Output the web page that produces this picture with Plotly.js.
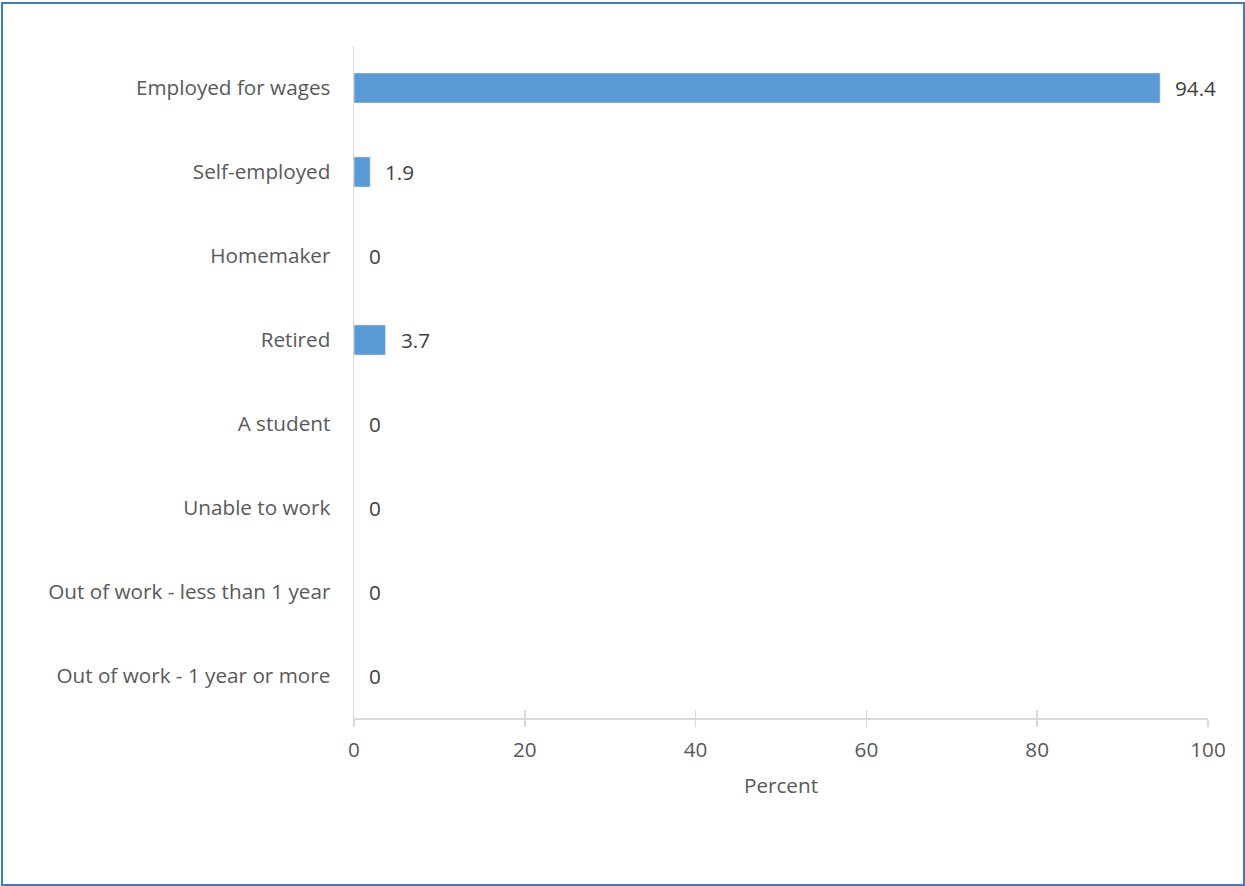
<!DOCTYPE html>
<html>
<head>
<meta charset="utf-8">
<script src="https://cdn.plot.ly/plotly-3.0.1.min.js"></script>
<style>
html,body{margin:0;padding:0;background:#fff;}
#chart{width:1245px;height:886px;position:absolute;left:0;top:0;}
#frame{position:absolute;left:1px;top:2px;width:1240px;height:880px;border:2px solid #3d7cc0;pointer-events:none;}
</style>
</head>
<body>
<div id="chart"></div>
<div id="frame"></div>
<script>
var categories = ["Employed for wages","Self-employed","Homemaker","Retired","A student","Unable to work","Out of work - less than 1 year","Out of work - 1 year or more"];
var percents = [94.4, 1.9, 0, 3.7, 0, 0, 0, 0];
var labels = ["94.4","1.9","0","3.7","0","0","0","0"];
var xTicks = [0,20,40,60,80,100];

var font = "'Open Sans', sans-serif";
var fs = 20.7;

var annotations = categories.map(function(c,i){
  return {x: percents[i], y: c, xref:'x', yref:'y', text: labels[i], showarrow:false,
    xanchor:'left', yanchor:'middle', xshift:13, font:{family:font,size:fs,color:'#404040'}};
});

var data = [{
  type:'bar', orientation:'h', x: percents, y: categories,
  marker:{color:'#5b9bd5', line:{color:'#ffffff', width:0.5}},
  width:0.36, hoverinfo:'none'
},{
  type:'scatter', mode:'markers', x:[0], y:[categories[0]], xaxis:'x2', marker:{opacity:0}, hoverinfo:'none', showlegend:false
}];

var layout = {
  width:1245, height:886,
  margin:{l:354, r:37, t:46, b:168},
  paper_bgcolor:'#ffffff', plot_bgcolor:'#ffffff',
  showlegend:false,
  font:{family:font, size:fs, color:'#595959'},
  xaxis:{range:[0,100], tickvals:xTicks, ticktext:xTicks.map(String), showgrid:false, zeroline:false,
    showline:true, linecolor:'#d9d9d9', linewidth:1.5, ticks:'outside', ticklen:7, tickcolor:'#d9d9d9', tickwidth:1.5,
    ticklabelstandoff:6, tickfont:{family:font,size:fs,color:'#595959'},
    title:{text:'Percent', font:{family:font,size:fs,color:'#595959'}, standoff:16}, fixedrange:true},
  xaxis2:{range:[0,100], overlaying:'x', anchor:'y', side:'bottom', tickvals:xTicks, showticklabels:false, showgrid:false,
    zeroline:false, showline:false, ticks:'inside', ticklen:8, tickcolor:'#d9d9d9', tickwidth:1.5},
  yaxis:{categoryorder:'array', categoryarray:categories.slice().reverse(), autorange:false, range:[-0.5,7.5],
    showgrid:false, zeroline:false, showline:true, linecolor:'#d9d9d9', linewidth:1.5, ticks:'', ticklabelstandoff:18,
    tickfont:{family:font,size:fs,color:'#595959'}, fixedrange:true},
  annotations: annotations
};

Plotly.newPlot('chart', data, layout, {displayModeBar:false, staticPlot:true});
</script>
</body>
</html>
